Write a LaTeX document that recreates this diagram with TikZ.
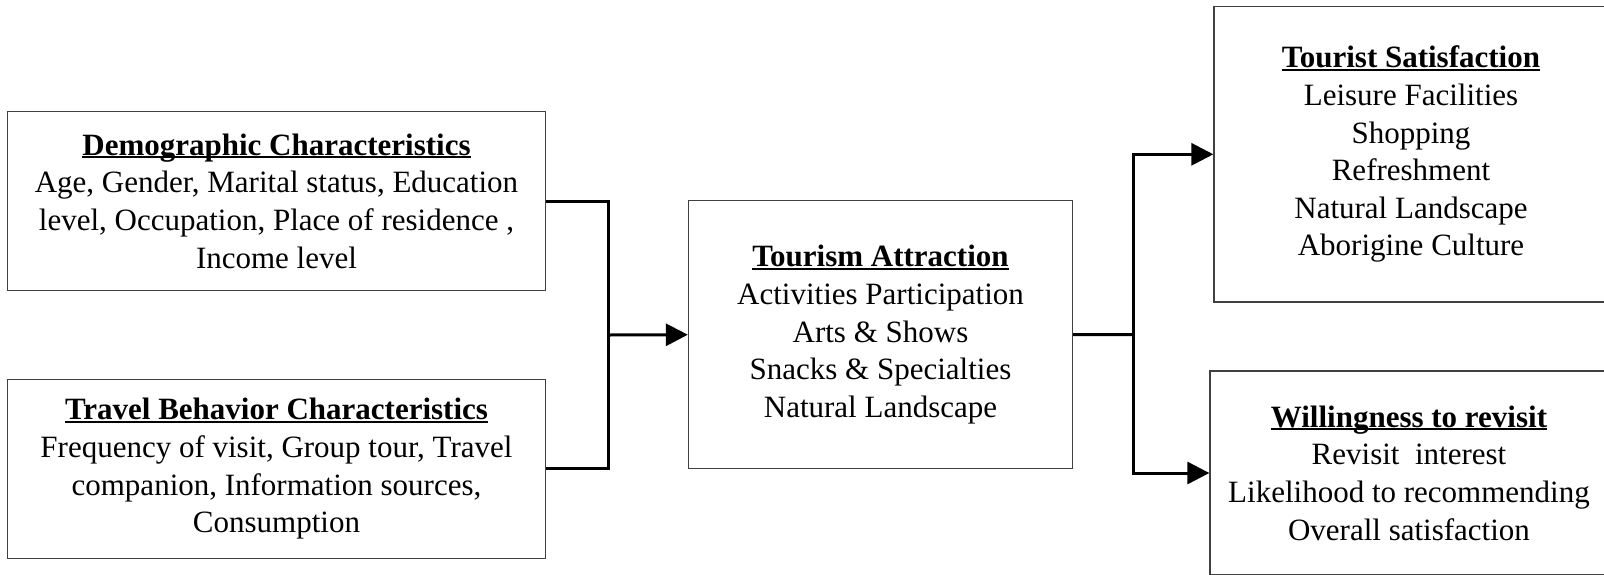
\documentclass[tikz,border=0pt]{standalone}
\usepackage{fontspec}
\setmainfont{Liberation Serif}
\usetikzlibrary{arrows.meta}
\tikzset{
  box/.style={draw=black!75, line width=1.3pt, rectangle, inner sep=0pt, align=center,
    font=\fontsize{31}{37.6}\selectfont},
  conn/.style={line width=3pt, black},
  arr/.style={conn, -{Triangle[length=22pt,width=22pt]}},
}
\newcommand{\ttl}[1]{\setbox0\hbox{\textbf{#1}}\rlap{\rule[-3.2pt]{\wd0}{2.2pt}}\box0}
\begin{document}
\begin{tikzpicture}[x=1pt,y=-1pt]
\useasboundingbox (0,0) rectangle (1604,574);
\clip (0,0) rectangle (1604,574);
\node[box, minimum width=538pt, minimum height=179pt] (A) at (276.5,201)
  {\ttl{Demographic Characteristics}\\Age, Gender, Marital status, Education\\level, Occupation, Place of residence ,\\Income level};
\node[box, minimum width=538pt, minimum height=179pt] (B) at (276.5,468.8)
  {\ttl{Travel Behavior Characteristics}\\Frequency of visit, Group tour, Travel\\companion, Information sources,\\Consumption};
\node[box, minimum width=384pt, minimum height=268pt] (C) at (880.5,334.7)
  {\ttl{Tourism Attraction}\\Activities Participation\\Arts \& Shows\\Snacks \& Specialties\\Natural Landscape};
\node[box, minimum width=394pt, minimum height=295.4pt] (D) at (1411,154.3)
  {\ttl{Tourist Satisfaction}\\Leisure Facilities\\Shopping\\Refreshment\\Natural Landscape\\Aborigine Culture};
\node[box, minimum width=398pt, minimum height=204pt] (E) at (1409,473)
  {\ttl{Willingness to revisit}\\Revisit\ \ interest\\Likelihood to recommending\\Overall satisfaction};
\coordinate (j1) at (608.5,335);
\coordinate (j2) at (1133,334.5);
\draw[conn] (A.east) -| (j1) |- (B.east);
\draw[arr] (j1) -- (C.west);
\draw[conn] (C.east) -- (j2);
\draw[arr] (j2) |- (D.west);
\draw[arr] (j2) |- (E.west);
\end{tikzpicture}
\end{document}
